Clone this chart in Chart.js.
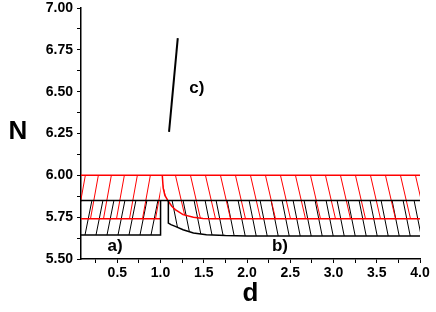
<!DOCTYPE html>
<html>
<head>
<meta charset="utf-8">
<script src="https://cdn.jsdelivr.net/npm/chart.js@4/dist/chart.umd.min.js"></script>
<style>
  html, body { margin: 0; padding: 0; background: #fff; }
  #wrap { width: 436px; height: 312px; }
</style>
</head>
<body>
<div id="wrap"><canvas id="chart"></canvas></div>
<script>
// axis ranges and ticks
const dMin = 0.08, dMax = 4.0;
const nMin = 5.5, nMax = 7.0;
const dTicks = [0.25, 0.5, 0.75, 1.0, 1.25, 1.5, 1.75, 2.0, 2.25, 2.5, 2.75, 3.0, 3.25, 3.5, 3.75, 4.0];
const nTicks = [5.5, 5.625, 5.75, 5.875, 6.0, 6.125, 6.25, 6.375, 6.5, 6.625, 6.75, 6.875, 7.0];

// a) region (black, left)
const aD = [0.08, 1.0];
const aLow = 5.643, aHigh = 5.85;

// red band levels
const redLow = 5.74, redHigh = 6.0;

// red boundary curve (right side)
const redCurveD = [1.02, 1.03, 1.05, 1.09, 1.13, 1.17, 1.26, 1.38, 1.49, 1.6, 4.0];
const redCurveN = [6.0, 5.925, 5.88, 5.845, 5.815, 5.795, 5.765, 5.75, 5.742, 5.74, 5.74];

// b) black boundary curve (right side)
const blackCurveD = [1.09, 1.09, 1.12, 1.17, 1.26, 1.38, 1.53, 1.75, 2.0, 4.0];
const blackCurveN = [5.85, 5.715, 5.705, 5.695, 5.675, 5.655, 5.645, 5.64, 5.638, 5.637];

// c) line
const cD = [1.098, 1.199];
const cN = [6.26, 6.82];

// text labels
const labelText = ['a)', 'b)', 'c)'];
const labelD = [0.475, 2.38, 1.42];
const labelN = [5.578, 5.575, 6.52];

const pts = (xs, ys) => xs.map((x, i) => ({x: x, y: ys[i]}));

// diagonal hatch pattern, dir 1 = "/", -1 = "\"
function hatch(color, w, h, dir) {
  const c = document.createElement('canvas');
  c.width = w; c.height = h;
  const g = c.getContext('2d');
  g.strokeStyle = color;
  g.lineWidth = 1;
  for (const o of [-w, 0, w]) {
    g.beginPath();
    if (dir > 0) { g.moveTo(o, h); g.lineTo(o + w, 0); }
    else { g.moveTo(o, 0); g.lineTo(o + w, h); }
    g.stroke();
  }
  return g.createPattern(c, 'repeat');
}

const redLeftHatch = hatch('#ff0000', 13, 72, 1);
const redRightHatch = hatch('#ff0000', 15, 65, -1);
const blackLeftHatch = hatch('#000000', 11, 55, 1);
const blackRightHatch = hatch('#000000', 11, 55, -1);

function area(data, pattern, order) {
  return { data: data, fill: 'shape', backgroundColor: pattern, borderWidth: 0,
           pointRadius: 0, order: order, tension: 0 };
}
function line(data, color, width) {
  return { data: data, fill: false, borderColor: color, borderWidth: width,
           pointRadius: 0, order: 1, tension: 0 };
}

const datasets = [
  // hatched regions
  area(pts([aD[0], aD[1], aD[1], aD[0]], [aLow, aLow, aHigh, aHigh]), blackLeftHatch, 5),
  area(pts(blackCurveD.concat([4.0]), blackCurveN.concat([aHigh])), blackRightHatch, 5),
  area(pts([dMin, 1.0, 1.0, dMin], [redLow, redLow, redHigh, redHigh]), redLeftHatch, 4),
  area(pts(redCurveD.concat([4.0]), redCurveN.concat([redHigh])), redRightHatch, 4),
  // boundaries
  line(pts([dMin, dMax], [aHigh, aHigh]), '#000', 1.5),
  line(pts([dMin, aD[1], aD[1]], [aLow, aLow, aHigh]), '#000', 1.5),
  line(pts(blackCurveD, blackCurveN), '#000', 1.5),
  line(pts([dMin, dMax], [redHigh, redHigh]), '#ff0000', 1.5),
  line(pts([dMin, 1.0], [redLow, redLow]), '#ff0000', 1.5),
  line(pts(redCurveD, redCurveN), '#ff0000', 1.5),
  line(pts(cD, cN), '#000', 2)
];

const textPlugin = {
  id: 'texts',
  afterDatasetsDraw(chart) {
    const ctx = chart.ctx;
    const xs = chart.scales.x, ys = chart.scales.y;
    ctx.save();
    ctx.fillStyle = '#000';
    ctx.textAlign = 'center';
    ctx.textBaseline = 'middle';
    ctx.font = 'bold 17px "Liberation Sans", Arial, sans-serif';
    labelText.forEach((t, i) => {
      ctx.fillText(t, xs.getPixelForValue(labelD[i]), ys.getPixelForValue(labelN[i]));
    });
    ctx.font = 'bold 26px "Liberation Sans", Arial, sans-serif';
    ctx.fillText('N', 18, 132);
    ctx.fillText('d', (chart.chartArea.left + chart.chartArea.right) / 2, 294);
    ctx.restore();
  }
};

const tickFont = { family: '"Liberation Sans", Arial, sans-serif', size: 14, weight: 'bold' };

new Chart(document.getElementById('chart'), {
  type: 'line',
  data: { datasets: datasets },
  plugins: [textPlugin],
  options: {
    responsive: true,
    maintainAspectRatio: false,
    animation: false,
    layout: { padding: { left: 0, top: 8, right: 16, bottom: 0 } },
    plugins: { legend: { display: false }, tooltip: { enabled: false } },
    scales: {
      x: {
        type: 'linear',
        min: dMin, max: dMax,
        afterBuildTicks: s => { s.ticks = dTicks.map(v => ({value: v})); },
        afterFit: s => { s.height = 53; s.paddingLeft = 0; s.paddingRight = 0; },
        ticks: {
          autoSkip: false, maxRotation: 0, color: '#000', font: tickFont, padding: 2,
          callback: v => Math.abs(v * 2 - Math.round(v * 2)) < 1e-6 ? v.toFixed(1) : ''
        },
        grid: { drawOnChartArea: false, color: '#000', tickLength: 4 },
        border: { color: '#000', width: 1.5 }
      },
      y: {
        min: nMin, max: nMax,
        afterBuildTicks: s => { s.ticks = nTicks.map(v => ({value: v})); },
        afterFit: s => { s.width = 81; s.paddingTop = 0; s.paddingBottom = 0; },
        ticks: {
          autoSkip: false, color: '#000', font: tickFont, padding: 4,
          callback: v => Math.abs(v * 4 - Math.round(v * 4)) < 1e-6 ? v.toFixed(2) : ''
        },
        grid: { drawOnChartArea: false, color: '#000', tickLength: 4 },
        border: { color: '#000', width: 1.5 }
      }
    }
  }
});
</script>
</body>
</html>
